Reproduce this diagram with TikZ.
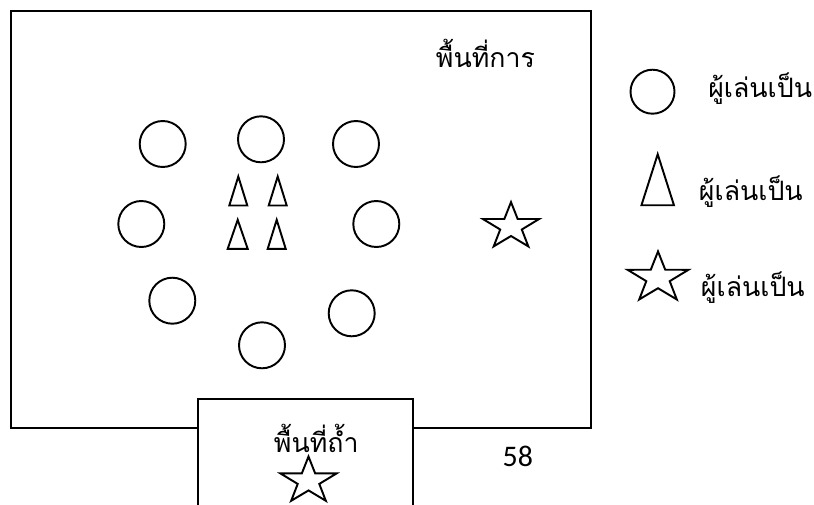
\documentclass[tikz,border=0pt]{standalone}
\usepackage{fontspec}
\setmainfont{Carlito}
\newfontfamily\thaifont[Script=Thai]{Loma}
\usetikzlibrary{shapes.geometric}

\begin{document}
\begin{tikzpicture}[
    x=0.02cm, y=-0.02cm,
    line width=1.1pt,
    player/.style={draw, circle, inner sep=0pt, minimum size=#1},
    player/.default=9.2mm,
    catcher/.style={draw, isosceles triangle, isosceles triangle stretches, shape border rotate=90,
        inner sep=0pt, minimum width=#1, minimum height=5.8mm, anchor=apex},
    catcher/.default=3.6mm,
    runner/.style={draw, star, star points=5, star point ratio=2.6, inner sep=0pt,
        minimum size=#1, yscale=0.83},
    runner/.default=11.8mm,
    label/.style={font=\thaifont\fontsize{15.2}{17}\selectfont, inner sep=0pt, anchor=base west},
]
\useasboundingbox (0,0) rectangle (814,504);
\clip (0,0) rectangle (814,504);

% playing field and cave
\draw (11,11) rectangle (591,428);
\draw[fill=white] (198,399) rectangle (413,530);

% players in a ring
\node[player] (p1) at (162.7,144) {};
\node[player] (p2) at (261,139.3) {};
\node[player] (p3) at (356,144) {};
\node[player] (p4) at (141.3,224) {};
\node[player] (p5) at (376.3,224) {};
\node[player] (p6) at (172.3,300.7) {};
\node[player] (p7) at (351.7,313.3) {};
\node[player] (p8) at (262,345.3) {};

% catchers in the middle
\node[catcher] (c1) at (238.3,174) {};
\node[catcher] (c2) at (277.7,174) {};
\node[catcher=4mm] (c3) at (237.7,217.3) {};
\node[catcher] (c4) at (276.7,217.3) {};

% runners
\node[runner] (r1) at (511,226.6) {};
\node[runner] (r2) at (308.5,481) {};

% area labels
\node[label] (field) at (435,67) {พื้นที่การ};
\node[label] (cave) at (273,452) {พื้นที่ถ้ำ};
\node[font=\fontsize{17}{19}\selectfont, inner sep=0pt, anchor=base west] (page) at (501.7,466.7) {58};

% legend
\node[player=8.8mm] (lp) at (652.5,91.7) {};
\node[catcher=6.5mm, minimum height=10.2mm] (lc) at (657.7,151.7) {};
\node[runner=12.8mm] (lr) at (658,278) {};
\node[label] (lpt) at (707.3,97.3) {ผู้เล่นเป็น};
\node[label] (lct) at (698,200) {ผู้เล่นเป็น};
\node[label] (lrt) at (700,296.7) {ผู้เล่นเป็น};

\end{tikzpicture}
\end{document}
